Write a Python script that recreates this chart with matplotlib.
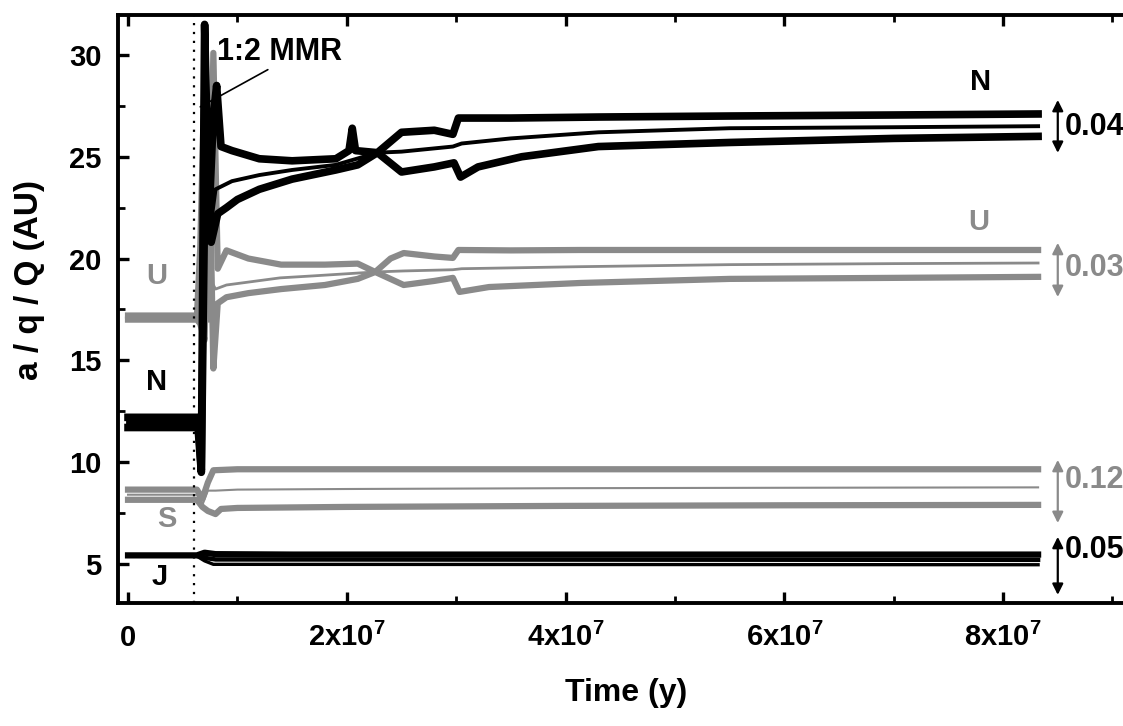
import numpy as np
import matplotlib.pyplot as plt
from matplotlib.ticker import MultipleLocator, FixedLocator, FixedFormatter

plt.rcParams["font.family"] = ["Liberation Sans", "DejaVu Sans"]
plt.rcParams["font.weight"] = "bold"
plt.rcParams["mathtext.fontset"] = "custom"
plt.rcParams["mathtext.rm"] = "Liberation Sans:bold"
plt.rcParams["mathtext.it"] = "Liberation Sans:bold"
plt.rcParams["mathtext.bf"] = "Liberation Sans:bold"

BLACK = "black"
GREY = "#8a8a8a"
T_UNIT = 1e7  # times below are in units of 1e7 yr

# Neptune: Q (aphelion), a, q (perihelion)
n_Q_t = [0, 0.64, 0.67, 0.70, 0.74, 0.78, 0.81, 0.85, 0.95, 1.2, 1.5, 1.9, 2.02, 2.05, 2.08,
         2.28, 2.5, 2.8, 2.97, 3.02, 3.5, 4.3, 5.5, 7.0, 8.32]
n_Q = [12.2, 12.2, 9.6, 31.5, 22.0, 27.0, 28.5, 25.5, 25.3, 24.9, 24.8, 24.9, 25.3, 26.4, 25.3,
       25.2, 26.2, 26.3, 26.1, 26.9, 26.9, 26.95, 27.0, 27.05, 27.1]
n_a_t = [0, 0.64, 0.67, 0.70, 0.74, 0.8, 0.95, 1.2, 1.5, 1.9, 2.28, 2.5, 2.97, 3.05, 3.5,
         4.3, 5.5, 7.0, 8.32]
n_a = [11.95, 11.95, 9.8, 29.0, 21.0, 23.4, 23.8, 24.1, 24.35, 24.6, 25.2, 25.25, 25.5, 25.65, 25.9,
       26.2, 26.4, 26.45, 26.5]
n_q_t = [0, 0.64, 0.67, 0.71, 0.76, 0.82, 0.9, 1.0, 1.2, 1.5, 1.9, 2.1, 2.28, 2.5, 2.8, 2.98,
         3.04, 3.2, 3.6, 4.3, 5.5, 7.0, 8.32]
n_q = [11.7, 11.7, 9.5, 27.0, 20.8, 22.2, 22.5, 22.9, 23.4, 23.9, 24.35, 24.6, 25.2, 24.25, 24.5, 24.7,
       24.0, 24.5, 25.0, 25.5, 25.7, 25.9, 26.0]

# Uranus
u_Q_t = [0, 0.63, 0.66, 0.70, 0.74, 0.78, 0.82, 0.9, 1.1, 1.4, 1.8, 2.1, 2.26, 2.4, 2.52,
         2.8, 2.97, 3.02, 3.5, 4.14, 5.5, 7.0, 8.32]
u_Q = [17.2, 17.2, 20.5, 29.0, 17.0, 30.1, 19.5, 20.4, 20.0, 19.7, 19.7, 19.75, 19.34, 20.0, 20.27,
       20.1, 20.03, 20.42, 20.4, 20.42, 20.42, 20.42, 20.42]
u_a_t = [0, 0.63, 0.67, 0.71, 0.75, 0.8, 0.9, 1.39, 1.7, 2.26, 2.52, 2.97, 3.05, 4.14, 5.5, 7.0, 8.32]
u_a = [17.1, 17.1, 17.3, 24.0, 19.0, 18.5, 18.7, 19.05, 19.15, 19.34, 19.39, 19.45, 19.5, 19.6, 19.7,
       19.75, 19.78]
u_q_t = [0, 0.63, 0.66, 0.70, 0.74, 0.78, 0.82, 0.9, 1.1, 1.4, 1.8, 2.1, 2.26, 2.52, 2.8, 2.97,
         3.03, 3.3, 4.14, 5.5, 7.0, 8.32]
u_q = [17.0, 17.0, 16.8, 16.0, 26.0, 14.6, 17.8, 18.1, 18.3, 18.5, 18.7, 19.0, 19.34, 18.7, 18.9, 19.05,
       18.36, 18.6, 18.8, 19.0, 19.05, 19.1]

# Saturn
s_Q_t = [0, 0.63, 0.68, 0.73, 0.78, 1.0, 2.0, 4.0, 6.0, 8.32]
s_Q = [8.65, 8.65, 8.2, 9.0, 9.6, 9.65, 9.65, 9.65, 9.65, 9.65]
s_a_t = [0, 0.63, 0.68, 0.73, 0.8, 1.0, 2.0, 4.0, 6.0, 8.32]
s_a = [8.4, 8.4, 7.9, 8.6, 8.6, 8.65, 8.68, 8.72, 8.74, 8.76]
s_q_t = [0, 0.63, 0.68, 0.73, 0.8, 0.85, 1.0, 2.0, 4.0, 6.0, 8.32]
s_q = [8.15, 8.15, 7.8, 7.6, 7.45, 7.7, 7.75, 7.8, 7.85, 7.88, 7.9]

# Jupiter
j_Q_t = [0, 0.63, 0.7, 0.8, 1.5, 8.32]
j_Q = [5.42, 5.42, 5.55, 5.48, 5.46, 5.46]
j_a_t = [0, 0.63, 0.7, 0.8, 8.32]
j_a = [5.4, 5.4, 5.3, 5.22, 5.2]
j_q_t = [0, 0.63, 0.7, 0.78, 8.32]
j_q = [5.38, 5.38, 5.15, 4.98, 4.96]

ecc_labels = ["0.04", "0.03", "0.12", "0.05"]
mmr_time = 0.6  # 1e7 yr

fig = plt.figure(figsize=(11.23, 7.26), dpi=100)
ax = fig.add_axes([0.1051, 0.1694, 0.905, 0.8099])


def draw(t, v, color, lw):
    ax.plot(np.array(t) * T_UNIT, v, color=color, lw=lw, solid_joinstyle="round")


# Jupiter
draw(j_q_t, j_q, BLACK, 2.4)
draw(j_a_t, j_a, BLACK, 3.2)
draw(j_Q_t, j_Q, BLACK, 4.5)
# Saturn
draw(s_Q_t, s_Q, GREY, 4.5)
draw(s_a_t, s_a, GREY, 1.5)
draw(s_q_t, s_q, GREY, 4.5)
# Uranus
draw(u_Q_t, u_Q, GREY, 4.5)
draw(u_a_t, u_a, GREY, 2.0)
draw(u_q_t, u_q, GREY, 4.5)
# Neptune
draw(n_Q_t, n_Q, BLACK, 5.5)
draw(n_a_t, n_a, BLACK, 2.8)
draw(n_q_t, n_q, BLACK, 5.5)

ax.axvline(mmr_time * T_UNIT, color=BLACK, lw=1.6, ls=(0, (1, 3)))
ax.annotate("1:2 MMR", xy=(0.66e7, 27.45), xytext=(0.81e7, 30.15),
            fontsize=22, fontweight="bold", va="center", ha="left",
            arrowprops=dict(arrowstyle="-", color=BLACK, lw=1.2, shrinkA=0, shrinkB=0,
                            relpos=(0.45, 0.0)))

# planet labels
lab = dict(fontsize=21, fontweight="bold", ha="center", va="center")
ax.text(0.265e7, 19.15, "U", color=GREY, **lab)
ax.text(0.265e7, 13.94, "N", color=BLACK, **lab)
ax.text(0.357e7, 7.2, "S", color=GREY, **lab)
ax.text(0.293e7, 4.36, "J", color=BLACK, **lab)
ax.text(7.79e7, 28.67, "N", color=BLACK, **lab)
ax.text(7.78e7, 21.8, "U", color=GREY, **lab)

# eccentricity arrows
arrows = [(25.19, 27.79, 26.46, BLACK), (18.11, 20.77, 19.54, GREY),
          (7.01, 10.11, 9.13, GREY), (3.48, 6.33, 5.69, BLACK)]
for (lo, hi, ty, c), txt in zip(arrows, ecc_labels):
    ax.annotate("", xy=(8.5e7, hi), xytext=(8.5e7, lo), annotation_clip=False,
                arrowprops=dict(arrowstyle="<|-|>", color=c, lw=1.6, mutation_scale=16,
                                shrinkA=0, shrinkB=0))
    ax.text(8.56e7, ty, txt, color=c, fontsize=22, fontweight="bold", ha="left", va="center",
            clip_on=False)

ax.set_xlim(-0.0915e7, 9.2e7)
ax.set_ylim(3.08, 31.96)

xt = [0, 2e7, 4e7, 6e7, 8e7]
ax.xaxis.set_major_locator(FixedLocator(xt))
ax.xaxis.set_major_formatter(FixedFormatter(["0", "2x10$^7$", "4x10$^7$", "6x10$^7$", "8x10$^7$"]))
ax.xaxis.set_minor_locator(MultipleLocator(1e7))
ax.yaxis.set_major_locator(MultipleLocator(5))
ax.yaxis.set_minor_locator(MultipleLocator(2.5))

ax.tick_params(which="both", direction="in", top=True, right=True, labelsize=21)
ax.tick_params(which="major", length=8, width=2.4)
ax.tick_params(which="minor", length=5, width=2.0)
ax.tick_params(axis="y", pad=12)
ax.tick_params(axis="x", pad=31)
fig.canvas.draw()
for lbl in ax.get_xticklabels():
    lbl.set_verticalalignment("baseline")
for s in ax.spines.values():
    s.set_linewidth(2.8)

ax.set_ylabel("a / q / Q (AU)", fontsize=24, fontweight="bold")
ax.yaxis.set_label_coords(-0.072, 0.549)
ax.set_xlabel("Time (y)", fontsize=23, fontweight="bold")
ax.xaxis.set_label_coords(0.5, -0.128)

fig.savefig("out.png", dpi=100)
